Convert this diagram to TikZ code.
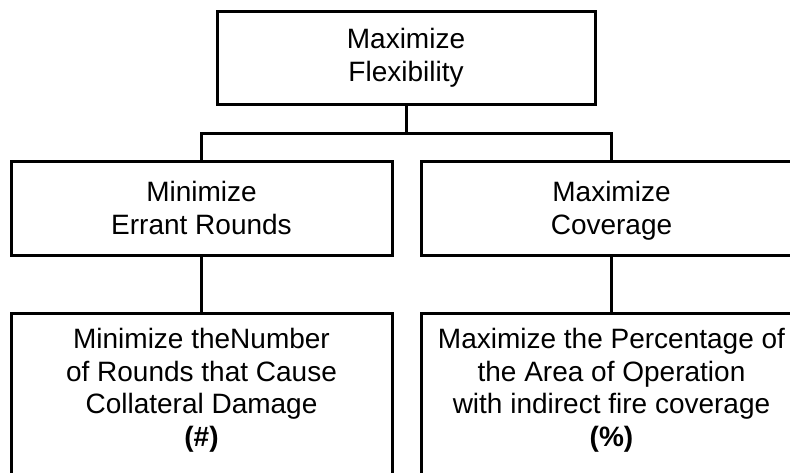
\documentclass[tikz,border=0pt]{standalone}
\usepackage{fontspec}
\setmainfont{Liberation Sans}
\begin{document}
\begin{tikzpicture}[x=1pt,y=-1pt,
  box/.style={draw, line width=3pt, rectangle, outer sep=0pt, inner sep=0pt,
    align=center, font=\fontsize{28}{32.8}\selectfont},
  midbox/.style={box, minimum width=381pt, minimum height=94pt, text depth=0pt},
  lowbox/.style={box, minimum width=381pt, anchor=north, inner ysep=15pt, text depth=200pt},
  link/.style={line width=3pt}]
\useasboundingbox (0,0) rectangle (790,472);
\clip (0,0) rectangle (790,472);
\node[box, minimum width=378pt, minimum height=93pt] (top) at (406,57.5) {Maximize\\Flexibility};
\node[midbox] (ml) at (201.5,208) {Minimize\\Errant Rounds};
\node[midbox] (mr) at (611.5,208) {Maximize\\Coverage};
\node[lowbox] (bl) at (201.5,313) {Minimize theNumber\\of Rounds that Cause\\Collateral Damage\\\textbf{(\#)}};
\node[lowbox] (br) at (611.5,313) {Maximize the Percentage of\\the Area of Operation\\with indirect fire coverage\\\textbf{(\%)}};
\coordinate (bus) at (406,133);
\draw[link] (top.south) -- (bus);
\draw[link] (ml.north) |- (bus) -| (mr.north);
\draw[link] (ml.south) -- (bl.north);
\draw[link] (mr.south) -- (br.north);
\end{tikzpicture}
\end{document}
